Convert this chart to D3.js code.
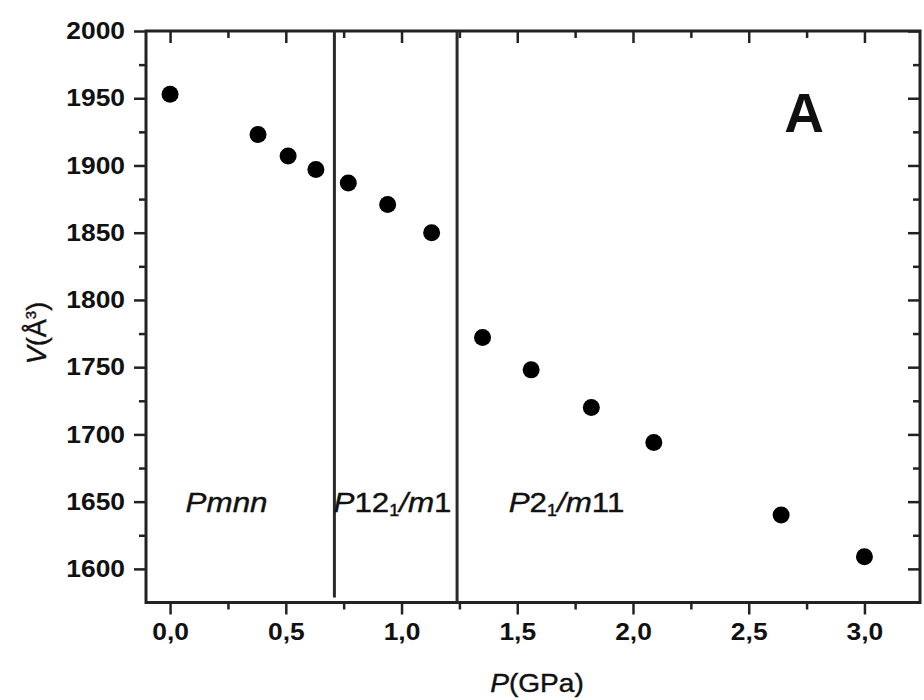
<!DOCTYPE html>
<html>
<head>
<meta charset="utf-8">
<script src="https://cdn.jsdelivr.net/npm/d3@7"></script>
<style>
  html, body { margin: 0; padding: 0; background: #fff; }
  svg { display: block; }
  text { font-family: "Liberation Sans", Arial, sans-serif; fill: #111; }
</style>
</head>
<body>
<svg id="chart" width="924" height="700"></svg>
<script>
// ---- data ----
const pressure = [0.00, 0.38, 0.51, 0.63, 0.77, 0.94, 1.13, 1.35, 1.56, 1.82, 2.09, 2.64, 3.00];
const volume   = [1953, 1923, 1907, 1897, 1887, 1871, 1850, 1772, 1748, 1720, 1694, 1640, 1609];
const xTicks = [0, 0.5, 1.0, 1.5, 2.0, 2.5, 3.0];
const xMinor = [0.25, 0.75, 1.25, 1.75, 2.25, 2.75, 3.25];
const yTicks = [1600, 1650, 1700, 1750, 1800, 1850, 1900, 1950, 2000];
const yMinor = [1575, 1625, 1675, 1725, 1775, 1825, 1875, 1925, 1975];
const phaseBoundaries = [0.71, 1.24];
const phaseLabels = [
  { x: 0.244, parts: [["P", "i"], ["mnn", "i"]] },
  { x: 0.961, parts: [["P", "i"], ["12", "n"], ["1", "sub"], ["/", "i"], ["m", "i"], ["1", "n"]] },
  { x: 1.713, parts: [["P", "i"], ["2", "n"], ["1", "sub"], ["/", "i"], ["m", "i"], ["11", "n"]] }
];
const phaseLabelY = 1642;
const panelLabel = { text: "A", x: 2.739, y: 1925 };

// ---- layout ----
const svg = d3.select("#chart");
const L = 146, R = 920, T = 31, B = 602.5;
const x = d3.scaleLinear().domain([-0.104, 3.24]).range([L, R]);
const y = d3.scaleLinear().domain([1575, 2000]).range([B, T]);
const comma = d3.formatLocale({ decimal: ",", thousands: ".", grouping: [3], currency: ["", ""] });
const fx = comma.format(".1f");
const axisColor = "#222";

function styleAxis(g) {
  g.select(".domain").remove();
  g.selectAll(".tick line").attr("stroke", axisColor).attr("stroke-width", 2.5);
}
function stretchText(g, s) {
  g.selectAll("text").each(function () {
    const t = d3.select(this);
    const tx = +t.attr("x") || 0, ty = +t.attr("y") || 0;
    t.attr("transform", `translate(${tx},${ty}) scale(${s},1)`).attr("x", 0).attr("y", 0);
  });
}

// bottom axis
const gb = svg.append("g").attr("transform", `translate(0,${B})`)
  .call(d3.axisBottom(x).tickValues(xTicks).tickFormat(fx).tickSize(12).tickPadding(8));
styleAxis(gb);
gb.selectAll("text").attr("font-size", 24).attr("font-weight", "bold").attr("fill", "#111");
stretchText(gb, 1.1);
const gbm = svg.append("g").attr("transform", `translate(0,${B})`)
  .call(d3.axisBottom(x).tickValues(xMinor.filter(v => x(v) < R - 2)).tickFormat("").tickSize(7));
styleAxis(gbm);

// top axis (inward)
const gt = svg.append("g").attr("transform", `translate(0,${T})`)
  .call(d3.axisTop(x).tickValues(xTicks).tickFormat("").tickSize(-12));
styleAxis(gt);
const gtm = svg.append("g").attr("transform", `translate(0,${T})`)
  .call(d3.axisTop(x).tickValues(xMinor.filter(v => x(v) < R - 2)).tickFormat("").tickSize(-7));
styleAxis(gtm);

// left axis
const gl = svg.append("g").attr("transform", `translate(${L},0)`)
  .call(d3.axisLeft(y).tickValues(yTicks).tickFormat(d3.format("d")).tickSize(12).tickPadding(9));
styleAxis(gl);
gl.selectAll("text").attr("font-size", 24).attr("font-weight", "bold").attr("fill", "#111");
stretchText(gl, 1.1);
const glm = svg.append("g").attr("transform", `translate(${L},0)`)
  .call(d3.axisLeft(y).tickValues(yMinor.filter(v => y(v) < B - 2)).tickFormat("").tickSize(7));
styleAxis(glm);

// right axis (inward)
const gr = svg.append("g").attr("transform", `translate(${R},0)`)
  .call(d3.axisRight(y).tickValues(yTicks).tickFormat("").tickSize(-12));
styleAxis(gr);
const grm = svg.append("g").attr("transform", `translate(${R},0)`)
  .call(d3.axisRight(y).tickValues(yMinor.filter(v => y(v) < B - 2)).tickFormat("").tickSize(-7));
styleAxis(grm);

// frame
svg.append("rect").attr("x", L).attr("y", T).attr("width", R - L).attr("height", B - T)
  .attr("fill", "none").attr("stroke", axisColor).attr("stroke-width", 3);

// phase boundaries
svg.selectAll("line.phase").data(phaseBoundaries).join("line")
  .attr("class", "phase")
  .attr("x1", d => x(d)).attr("x2", d => x(d))
  .attr("y1", T).attr("y2", (d, i) => i === 0 ? B - 5 : B)
  .attr("stroke", "#2a2a2a").attr("stroke-width", 3);

// points
svg.selectAll("circle.pt").data(pressure.map((p, i) => [p, volume[i]])).join("circle")
  .attr("class", "pt")
  .attr("cx", d => x(d[0])).attr("cy", d => y(d[1])).attr("r", 8.5)
  .attr("fill", "#000");

// phase labels
phaseLabels.forEach(lab => {
  const g = svg.append("g")
    .attr("transform", `translate(${x(lab.x)},${y(phaseLabelY)}) scale(1.12,1)`);
  const t = g.append("text").attr("text-anchor", "middle").attr("font-size", 28)
    .attr("stroke", "#111").attr("stroke-width", 0.4);
  lab.parts.forEach(([s, kind], i) => {
    const ts = t.append("tspan").text(s);
    if (kind === "i") ts.attr("font-style", "italic");
    const prev = i > 0 ? lab.parts[i - 1][1] : null;
    if (kind === "sub") ts.attr("font-size", 16).attr("dy", 4);
    else if (prev === "sub") ts.attr("dy", -4);
  });
});

// panel label
svg.append("text").attr("x", x(panelLabel.x)).attr("y", y(panelLabel.y))
  .attr("text-anchor", "middle").attr("font-size", 55).attr("font-weight", "bold")
  .text(panelLabel.text);

// axis titles
const xt = svg.append("text").attr("transform", `translate(537,692) scale(1.08,1)`)
  .attr("text-anchor", "middle").attr("font-size", 26)
  .attr("stroke", "#111").attr("stroke-width", 0.4);
xt.append("tspan").attr("font-style", "italic").text("P");
xt.append("tspan").text("(GPa)");

const yt = svg.append("text").attr("transform", `translate(46,333) rotate(-90)`)
  .attr("text-anchor", "middle").attr("font-size", 27)
  .attr("stroke", "#111").attr("stroke-width", 0.4);
yt.append("tspan").attr("font-style", "italic").text("V");
yt.append("tspan").text("(Å");
yt.append("tspan").attr("font-size", 15).attr("dy", -10).text("3");
yt.append("tspan").attr("dy", 10).text(")");
</script>
</body>
</html>
